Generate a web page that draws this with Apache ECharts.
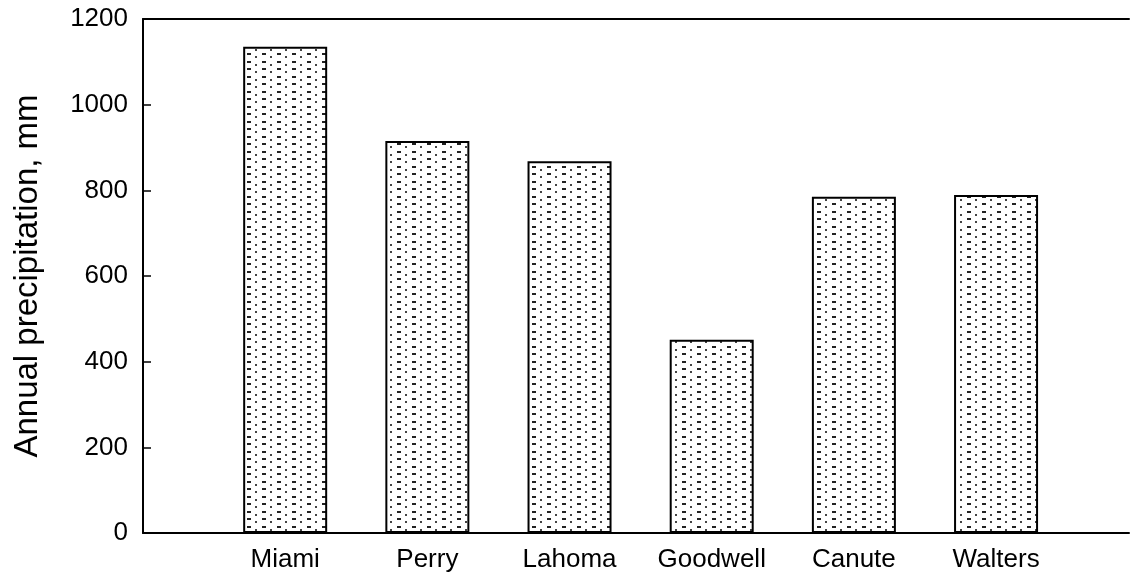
<!DOCTYPE html>
<html>
<head>
<meta charset="utf-8">
<script src="https://cdn.jsdelivr.net/npm/echarts@6/dist/echarts.min.js"></script>
<style>
  html, body { margin: 0; padding: 0; background: #fff; }
  #chart { width: 1132px; height: 579px; }
</style>
</head>
<body>
<div id="chart"></div>
<script>
// Annual precipitation by site
const sites = ['Miami', 'Perry', 'Lahoma', 'Goodwell', 'Canute', 'Walters'];
const precipitation = [1135, 915, 868, 451, 785, 789];
const yTicks = [0, 200, 400, 600, 800, 1000, 1200];

// Stippled fill: rows of short dashes alternating with rows of small dots
function stipple() {
  const c = document.createElement('canvas');
  c.width = 15; c.height = 15;
  const g = c.getContext('2d');
  g.fillStyle = '#fff';
  g.fillRect(0, 0, 15, 15);
  g.fillStyle = '#222';
  g.fillRect(7, 1, 4, 2);
  g.fillRect(7, 8, 4, 2);
  g.fillStyle = '#444';
  g.fillRect(0, 4, 2, 2);
  g.fillRect(0, 11, 2, 2);
  return c;
}

const chart = echarts.init(document.getElementById('chart'), null, { renderer: 'canvas' });
const font = '"Liberation Sans", Arial, sans-serif';
const xMax = 6.935;

chart.setOption({
  animation: false,
  grid: { left: 143, right: 0, top: 19, bottom: 46, containLabel: false },
  xAxis: [
    {
      type: 'value',
      min: 0, max: xMax, interval: 1,
      position: 'bottom',
      axisLine: { show: true, lineStyle: { color: '#000', width: 2 } },
      axisTick: { show: false },
      splitLine: { show: false },
      axisLabel: {
        color: '#000', fontSize: 26, fontFamily: font, margin: 14,
        formatter: v => sites[v - 1] || ''
      }
    },
    {
      type: 'value',
      min: 0, max: xMax,
      position: 'top',
      axisLine: { show: true, lineStyle: { color: '#000', width: 2 } },
      axisTick: { show: false },
      axisLabel: { show: false },
      splitLine: { show: false }
    }
  ],
  yAxis: {
    type: 'value',
    min: yTicks[0], max: yTicks[yTicks.length - 1], interval: 200,
    name: 'Annual precipitation, mm',
    nameLocation: 'middle',
    nameGap: 99,
    nameTextStyle: { color: '#000', fontSize: 33, fontFamily: font },
    axisLine: { show: true, lineStyle: { color: '#000', width: 2 } },
    axisTick: { show: true, inside: true, length: 8, lineStyle: { color: '#000', width: 1.5 } },
    splitLine: { show: false },
    axisLabel: { color: '#000', fontSize: 26, fontFamily: font, margin: 15, formatter: v => String(v) }
  },
  series: [{
    type: 'bar',
    barWidth: 84,
    data: precipitation.map((v, i) => [i + 1, v]),
    itemStyle: {
      color: { image: stipple(), repeat: 'repeat' },
      borderColor: '#000',
      borderWidth: 2
    }
  }]
});
</script>
</body>
</html>
